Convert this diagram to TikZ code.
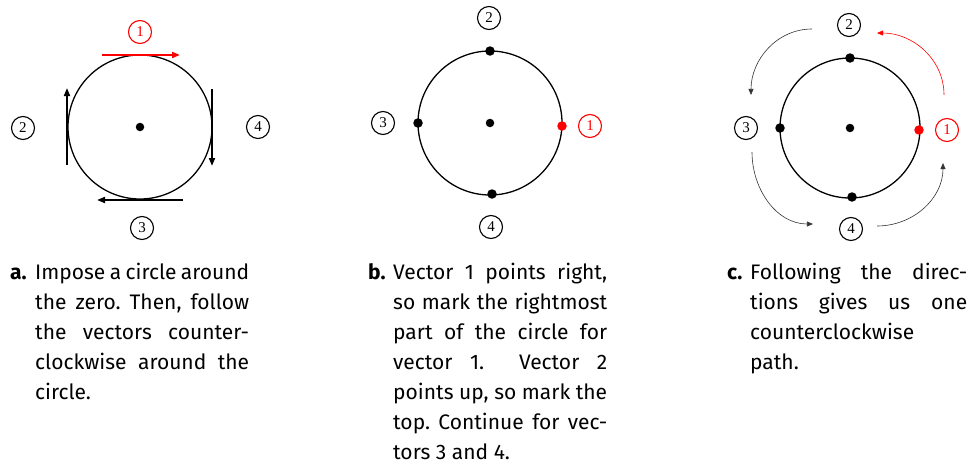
\documentclass[tikz,border=0pt]{standalone}
\usepackage{fontspec}
\newfontfamily\capfont{Fira Sans}
\newfontfamily\numfont{Liberation Serif}
\usetikzlibrary{arrows.meta}
\frenchspacing
\newcommand{\jline}[1]{\hbox to \hsize{#1}}
\newcommand{\lline}[1]{\hbox{#1}}
\newcommand{\capblock}[2]{\vtop{\hsize=#1\baselineskip=30pt #2}}
\tikzset{
  num/.style={circle,draw,line width=1.1pt,minimum size=23pt,inner sep=0pt,font=\numfont\fontsize{15}{15}\selectfont},
  rednum/.style={num,draw=red,text=red},
  ring/.style={draw,line width=1.3pt},
  dot/.style={circle,fill,inner sep=0pt,minimum size=9.5pt},
  cdot/.style={circle,fill,inner sep=0pt,minimum size=8.5pt},
  vec/.style={line width=1.8pt,-{Triangle[length=8pt,width=6pt]}},
  flow/.style={line width=0.6pt,draw=black!80,-{Triangle[length=6pt,width=5pt]}},
  captxt/.style={anchor=base west,inner sep=0pt,font=\capfont\fontsize{21}{30}\selectfont},
  caplab/.style={anchor=base west,inner sep=0pt,font=\capfont\bfseries\fontsize{21}{30}\selectfont},
}
\begin{document}
\begin{tikzpicture}[x=1pt,y=-1pt]
\useasboundingbox (0,0) rectangle (969,463);
% ---------- panel a ----------
\node[cdot] (ca) at (140,127) {};
\draw[ring] (ca) circle[radius=72];
\draw[vec,red] (102,55) -- (180,55);
\draw[vec] (67,165) -- (67,88);
\draw[vec] (183,200) -- (97,200);
\draw[vec] (212,89) -- (212,166);
\node[rednum] (a1) at (140,32) {1};
\node[num] (a2) at (23,128) {2};
\node[num] (a3) at (142,228) {3};
\node[num] (a4) at (258,127) {4};
% ---------- panel b ----------
\node[cdot] (cb) at (490,123) {};
\draw[ring] (cb) circle[radius=72];
\node[dot] (b2d) at (490,51) {};
\node[dot] (b3d) at (418,123) {};
\node[dot] (b4d) at (492,194) {};
\node[dot,red] (b1d) at (562,126) {};
\node[rednum] (b1) at (590,126) {1};
\node[num] (b2) at (489,18) {2};
\node[num] (b3) at (383,123) {3};
\node[num] (b4) at (491,227) {4};
% ---------- panel c ----------
\node[cdot] (cc) at (850,128) {};
\draw[ring] (cc) circle[radius=70];
\node[dot] (c2d) at (850,58) {};
\node[dot] (c3d) at (780,128) {};
\node[dot] (c4d) at (852,197) {};
\node[dot,red] (c1d) at (919,130) {};
\node[rednum] (c1) at (947,130) {1};
\node[num] (c2) at (849,25) {2};
\node[num] (c3) at (746,128) {3};
\node[num] (c4) at (851,229) {4};
\draw[flow,draw=red,red] ([xshift=-3pt,yshift=23pt]c1.north) to[out=90,in=0] ([xshift=16pt,yshift=-8pt]c2.east);
\draw[flow] ([xshift=-25pt,yshift=-4pt]c2.west) to[out=180,in=90] ([xshift=5pt,yshift=21pt]c3.north);
\draw[flow] ([xshift=6pt,yshift=-12pt]c3.south) to[out=-90,in=180] ([xshift=-26pt,yshift=5pt]c4.west);
\draw[flow] ([xshift=14pt,yshift=3pt]c4.east) to[out=0,in=-90] ([xshift=-4pt,yshift=-21pt]c1.south);
% ---------- captions ----------
\node[caplab] (la) at (10,279) {a.};
\node[captxt] (ta) at (35,279) {\capblock{214pt}{\jline{Impose a circle around}\jline{the zero. Then, follow}\jline{the vectors counter-}\jline{clockwise around the}\lline{circle.}}};
\node[caplab] (lb) at (368,279) {b.};
\node[captxt] (tb) at (393,279) {\capblock{214pt}{\jline{Vector 1 points right,}\jline{so mark the rightmost}\jline{part of the circle for}\jline{vector 1.\ \ Vector 2}\jline{points up, so mark the}\jline{top. Continue for vec-}\lline{tors 3 and 4.}}};
\node[caplab] (lc) at (727,279) {c.};
\node[captxt] (tc) at (750,279) {\capblock{217pt}{\jline{Following the direc-}\jline{tions gives us one}\lline{counterclockwise}\lline{path.}}};
\end{tikzpicture}
\end{document}
